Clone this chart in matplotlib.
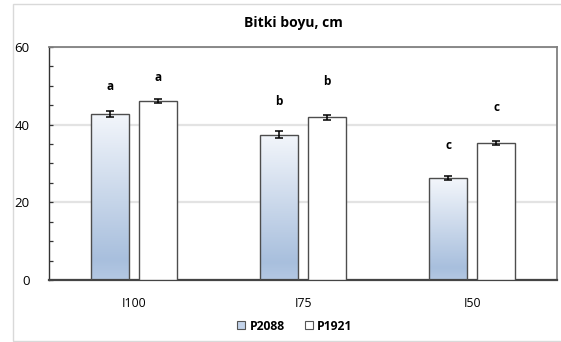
import numpy as np
import matplotlib
matplotlib.use('Agg')
import matplotlib.pyplot as plt
from matplotlib.colors import LinearSegmentedColormap
from matplotlib.patches import Rectangle, Patch

plt.rcParams['font.family'] = ['Open Sans', 'DejaVu Sans']

# ================== data ==================
categories = ['I100', 'I75', 'I50']
series = ['P2088', 'P1921']
p2088 = [42.8, 37.4, 26.2]
p1921 = [46.1, 41.9, 35.3]
p2088_err = [0.8, 0.9, 0.5]
p1921_err = [0.55, 0.6, 0.6]
p2088_letters = ['a', 'b', 'c']
p1921_letters = ['a', 'b', 'c']
p2088_letter_y = [49.8, 46.0, 34.6]
p1921_letter_y = [52.1, 51.0, 44.4]

# ================== figure ==================
fig = plt.figure(figsize=(5.61, 3.42), dpi=100)
ax = fig.add_axes([49/561, 1 - 280/342, (557-49)/561, (280-47)/342])

# outer chart border
fig.patches.append(Rectangle((13/561, 1/342), 1.2, 337/342, transform=fig.transFigure,
                             fill=False, edgecolor='#d9d9d9', lw=1.0))

x = np.arange(len(categories))
w = 0.224
off = 0.142

grad = LinearSegmentedColormap.from_list('g', [(0, '#b4c8e3'), (0.12, '#a8bfdd'), (1, '#f3f6fb')])
img = np.linspace(0, 1, 256).reshape(-1, 1)

bars1 = ax.bar(x - off, p2088, w, facecolor='none', edgecolor='#4d4d4d', lw=1.0, zorder=3)
for b in bars1:
    im = ax.imshow(img, cmap=grad, origin='lower', aspect='auto', zorder=2,
                   extent=[b.get_x(), b.get_x() + b.get_width(), 0, b.get_height()])
    im.set_clip_path(b)
bars2 = ax.bar(x + off, p1921, w, facecolor='white', edgecolor='#4d4d4d', lw=1.0, zorder=3)

ax.errorbar(x - off, p2088, yerr=p2088_err, fmt='none', ecolor='black', elinewidth=1.1,
            capsize=3, capthick=1.1, zorder=4)
ax.errorbar(x + off, p1921, yerr=p1921_err, fmt='none', ecolor='black', elinewidth=1.1,
            capsize=3, capthick=1.1, zorder=4)

for i in range(len(categories)):
    ax.text(x[i] - off, p2088_letter_y[i], p2088_letters[i], ha='center', va='center',
            fontsize=8.5, fontweight='bold')
    ax.text(x[i] + off, p1921_letter_y[i], p1921_letters[i], ha='center', va='center',
            fontsize=8.5, fontweight='bold')

ax.set_xlim(-0.5, 2.5)
ax.set_ylim(0, 60)
ax.set_yticks([0, 20, 40, 60])
ax.set_yticks(np.arange(0, 61, 5), minor=True)
ax.set_xticks(x)
ax.set_xticklabels(categories, fontsize=8.8)
ax.tick_params(axis='x', length=0, pad=12)
ax.tick_params(axis='y', which='both', direction='in', length=3, width=0.9, labelsize=9.5,
               pad=14, color='#333333')
ax.grid(axis='y', color='#e3e3e3', lw=1.6, zorder=0)
ax.set_axisbelow(True)

for s in ['left', 'bottom']:
    ax.spines[s].set_color('#333333')
ax.spines['left'].set_linewidth(1.0)
ax.spines['bottom'].set_linewidth(1.6)
ax.spines['bottom'].set_color('#444444')
for s in ['top', 'right']:
    ax.spines[s].set_color('#808080')
    ax.spines[s].set_linewidth(1.3)

fig.text(293/561, 1 - 23/342, 'Bitki boyu, cm', ha='center', va='center', fontsize=10,
         fontweight='bold')

handles = [Patch(facecolor='#c3d3ea', edgecolor='#555555', lw=0.8),
           Patch(facecolor='white', edgecolor='#555555', lw=0.8)]
leg = fig.legend(handles, series, loc='center', bbox_to_anchor=(295/561, 1 - 326/342), ncol=2,
                 frameon=False, handlelength=0.65, handleheight=0.65,
                 handletextpad=0.35, columnspacing=1.7, prop={'weight': 'bold', 'size': 8.7})

fig.savefig('out.png', dpi=100)
